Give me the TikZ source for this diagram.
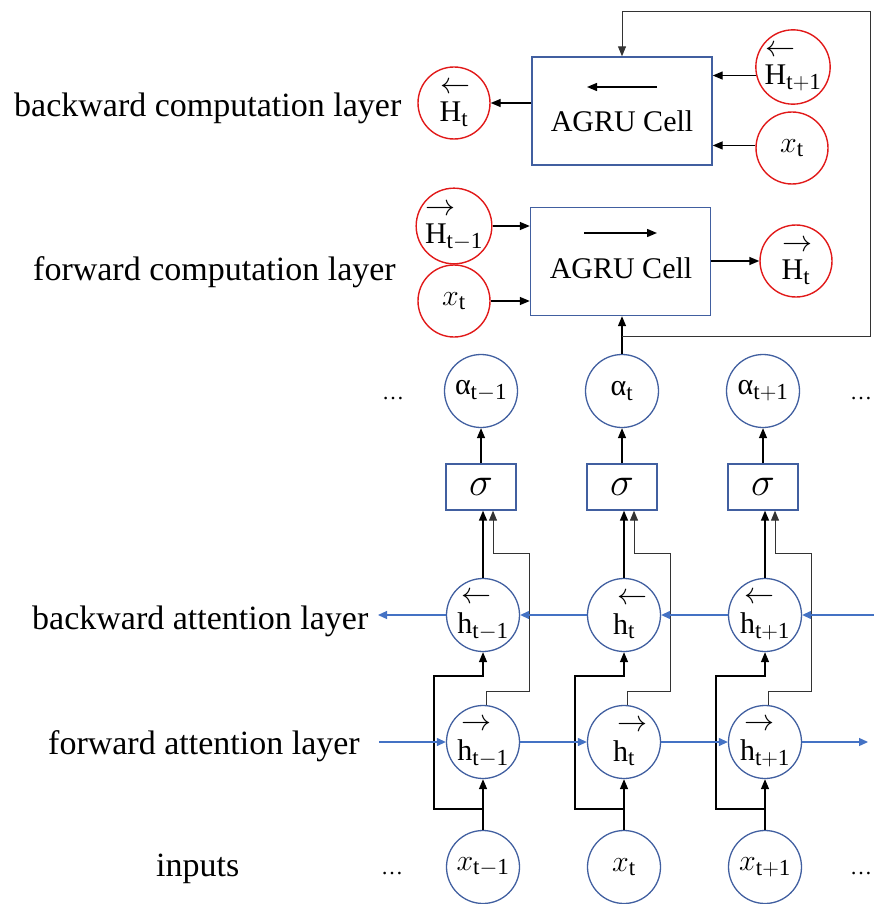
\RequirePackage{fix-cm}
\documentclass[tikz,border=0pt]{standalone}
\usepackage{amsmath}
\usepackage{fontspec}
\setmainfont{Liberation Serif}
\usetikzlibrary{arrows.meta}

\definecolor{cellred}{RGB}{225,25,25}
\definecolor{nodeblue}{RGB}{65,95,160}
\definecolor{linkblue}{RGB}{68,114,196}

% larger indices inside the circles
\DeclareMathSizes{30}{30}{23}{17}

% direction marks over a letter (zero width, so the index follows the letter);
% the optional argument moves the mark's left end from the letter's centre
\newcommand\larr[2][-3pt]{{\overset{\raisebox{4pt}{\makebox[0pt][l]{\hspace{#1}$\leftarrow$}}}{\mathrm{#2}}}}
\newcommand\rarr[2][-3pt]{{\overset{\raisebox{4pt}{\makebox[0pt][l]{\hspace{#1}$\rightarrow$}}}{\mathrm{#2}}}}

\begin{document}
\begin{tikzpicture}[x=1pt,y=-1pt,
  redcirc/.style={circle,draw=cellred,line width=1.4pt,minimum size=72pt,inner sep=0pt,font=\fontsize{30}{36}\selectfont},
  bluecirc/.style={circle,draw=nodeblue,line width=1.3pt,minimum size=73pt,inner sep=0pt,font=\fontsize{30}{36}\selectfont},
  cellbox/.style={draw=nodeblue,line width=1.4pt,minimum width=180pt,minimum height=108pt,inner sep=0pt},
  celltext/.style={anchor=base,inner sep=0pt,font=\fontsize{30}{36}\selectfont},
  sigbox/.style={draw=nodeblue,line width=1.3pt,minimum width=70pt,minimum height=46pt,inner sep=0pt,font=\fontsize{40}{44}\selectfont},
  lbl/.style={anchor=base west,inner sep=0pt,font=\fontsize{34}{40}\selectfont},
  dots/.style={anchor=base,inner sep=0pt,font=\fontsize{22}{26}\selectfont},
  tip/.style={-{Triangle[length=10pt,width=8pt]}},
  conn/.style={line width=1.4pt,tip},
  thinconn/.style={line width=1pt,draw=black!80,tip},
  link/.style={draw=linkblue,line width=1.2pt,-{Triangle[length=9pt,width=8pt]}}
]
\useasboundingbox (0,0) rectangle (874,904);

% ---------- layer captions ----------
\node[lbl] (l1) at (14,117) {backward computation layer};
\node[lbl] (l2) at (33,280) {forward computation layer};
\node[lbl] (l3) at (32,629) {backward attention layer};
\node[lbl] (l4) at (48,754) {forward attention layer};
\node[lbl] (l5) at (156,876) {inputs};

% ---------- computation layers ----------
\node[cellbox] (bcell) at (622,111) {};
\node[celltext] (btxt) at (622,132) {AGRU Cell};
\draw[conn] ([shift={(35,-24)}]bcell.center) -- ([shift={(-35,-24)}]bcell.center);

\node[cellbox] (fcell) at (620.5,261.5) {};
\node[celltext] (ftxt) at (621,278) {AGRU Cell};
\draw[conn] ([shift={(-36.5,-28.5)}]fcell.center) -- ([shift={(36.5,-28.5)}]fcell.center);

\node[redcirc] (bH)  at (454,103) {$\larr[-10pt]{H}_{\mathrm{t}}$};
\node[redcirc] (bHn) at (793,67)  {$\larr[-10pt]{H}_{\mathrm{t+1}}$};
\node[redcirc] (bx)  at (792,148) {$x_{\mathrm{t}}$};
\node[redcirc] (fHp) at (454,226) {$\rarr[-10pt]{H}_{\mathrm{t-1}}$};
\node[redcirc] (fx)  at (454,301) {$x_{\mathrm{t}}$};
\node[redcirc] (fH)  at (796,261) {$\rarr[-10pt]{H}_{\mathrm{t}}$};

\draw[conn] (bcell.west |- bH) -- (bH);
\draw[conn] (bHn.193) -- (bHn.193 -| bcell.east);
\draw[conn] (bx.176) -- (bx.176 -| bcell.east);
\draw[conn] (fHp.east) -- (fHp.east -| fcell.west);
\draw[conn] (fx.east) -- (fx.east -| fcell.west);
\draw[conn] (fcell.east |- fH) -- (fH);

% ---------- attention columns ----------
\foreach \i/\cx/\ux/\s in {1/483/481/{t-1},2/624/622/t,3/765/763/{t+1}}{
  \node[bluecirc] (x\i)  at (\cx,867) {$x_{\mathrm{\s}}$};
  \node[bluecirc] (fh\i) at (\cx,742) {$\rarr{h}_{\mathrm{\s}}$};
  \node[bluecirc] (bh\i) at (\cx,615) {$\larr{h}_{\mathrm{\s}}$};
  \node[sigbox]   (s\i)  at (\ux,487) {$\sigma$};
  \node[bluecirc] (a\i)  at (\ux,391) {$\mbox{α}_{\mathrm{\s}}$};

  \draw[conn] (x\i) -- (fh\i);
  \coordinate (j\i) at (\cx,809);
  \draw[conn] (j\i) -- (\cx-49,809) |- (\cx,676) -- (bh\i);
  \draw[conn] (bh\i) -- (bh\i |- s\i.south);
  \draw[thinconn] (fh\i.84) |- (\cx+46,691) -- (\cx+46,553) -- (\ux+12,553) -- (\ux+12,553 |- s\i.south);
  \draw[conn] (s\i) -- (a\i);
}

% recurrent links between time steps
\coordinate (bR) at (874,615);
\coordinate (bL) at (378,615);
\draw[link] (bR) -- (bh3);
\draw[link] (bh3) -- (bh2);
\draw[link] (bh2) -- (bh1);
\draw[link] (bh1) -- (bL);

\coordinate (fL) at (379,742);
\coordinate (fR) at (868,742);
\draw[link] (fL) -- (fh1);
\draw[link] (fh1) -- (fh2);
\draw[link] (fh2) -- (fh3);
\draw[link] (fh3) -- (fR);

% attention weight feeds both computation layers
\draw[conn] (a2) -- (a2 |- fcell.south);
\coordinate (fb) at (622,336);
\draw[thinconn] (fb) -| (870,12) -| (bcell.north);

% ellipses
\node[dots] (d1) at (393,399) {…};
\node[dots] (d2) at (861,399) {…};
\node[dots] (d3) at (392,874) {…};
\node[dots] (d4) at (861,874) {…};
\end{tikzpicture}
\end{document}
